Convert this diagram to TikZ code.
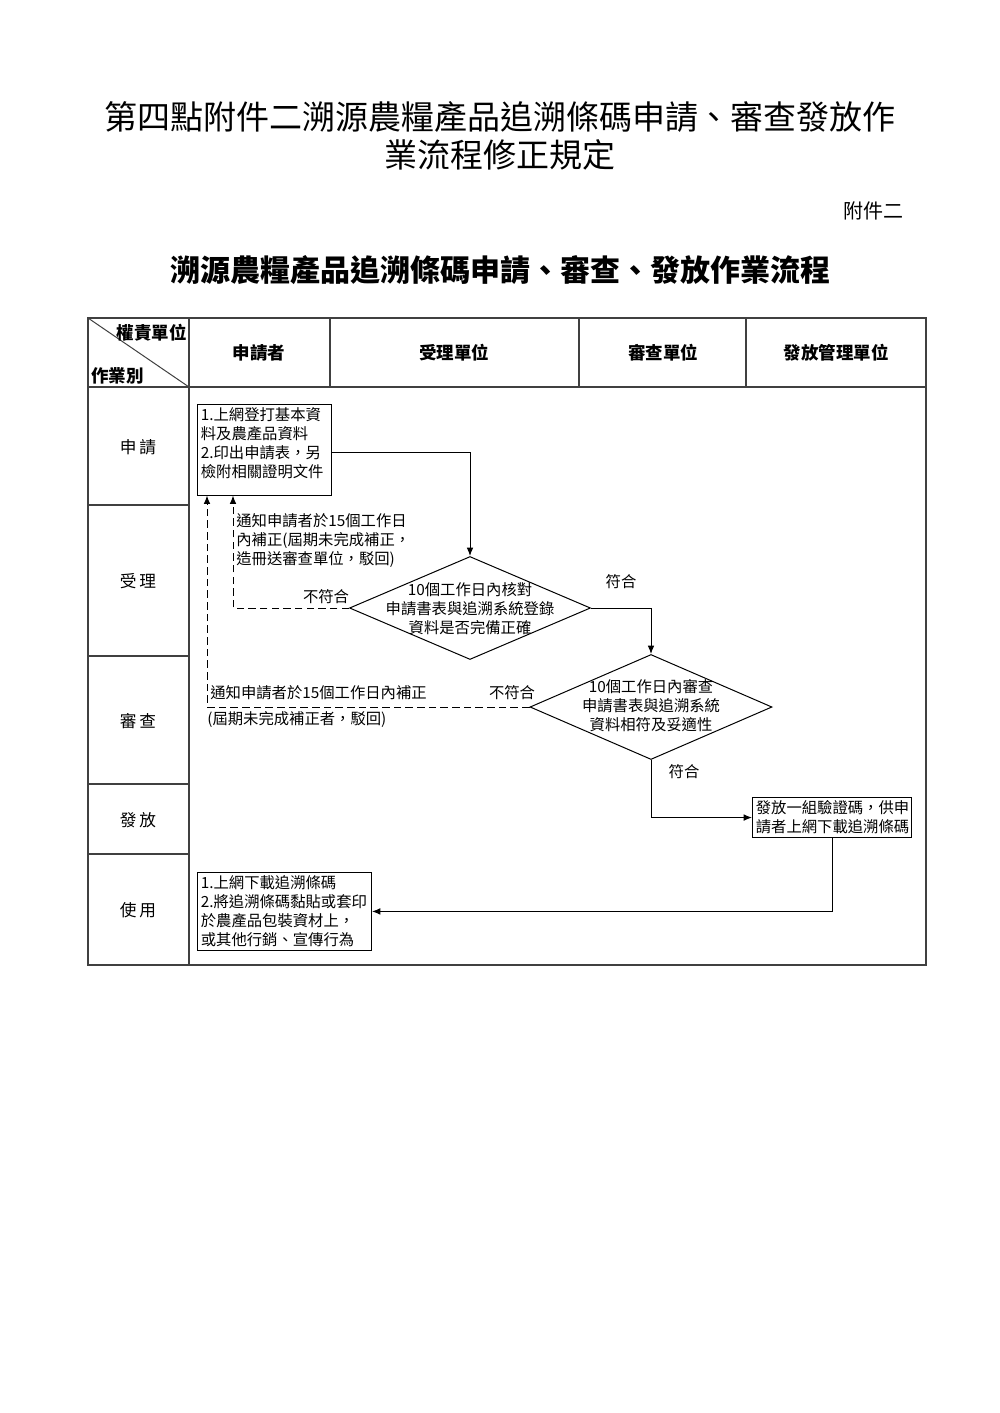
\documentclass[tikz,border=0pt]{standalone}
\usepackage{fontspec}
\setmainfont{Noto Sans CJK TC}
\usetikzlibrary{shapes.geometric,arrows.meta}
\begin{document}
\begin{tikzpicture}[x=0.6pt,y=-0.6pt,
  tbl/.style={draw=black!75, line width=0.8pt},
  box/.style={draw, line width=0.6pt, anchor=north west, align=left, inner sep=2pt, font=\fontsize{9.2pt}{11.4pt}\selectfont},
  dia/.style={draw, diamond, line width=0.6pt, inner sep=0pt},
  lbl/.style={font=\fontsize{9.2pt}{11.4pt}\selectfont, inner sep=0pt},
  flow/.style={line width=0.6pt, -{Latex[length=5pt,width=4pt]}},
  back/.style={flow, dash pattern=on 4.5pt off 2.5pt},
  hd/.style={font=\fontsize{10.5pt}{12pt}\selectfont\bfseries, inner sep=0pt},
  rowl/.style={font=\fontsize{10pt}{12pt}\selectfont, inner sep=0pt}]
\useasboundingbox (0,0) rectangle (1000,1413);

% titles
\node[font=\fontsize{19.8pt}{23pt}\selectfont, inner sep=0pt] (t1) at (500,117) {第四點附件二溯源農糧產品追溯條碼申請、審查發放作};
\node[font=\fontsize{19.8pt}{23pt}\selectfont, inner sep=0pt] (t2) at (500,155) {業流程修正規定};
\node[font=\fontsize{12pt}{14pt}\selectfont, inner sep=0pt, anchor=east] (att) at (904,211) {附件二};
\node[font=\fontsize{18pt}{21pt}\selectfont\bfseries, inner sep=0pt] (t3) at (500,270) {溯源農糧產品追溯條碼申請、審查、發放作業流程};

% table
\draw[tbl, line width=1.1pt] (88,318) rectangle (926,965);
\draw[tbl] (88,387) -- (926,387);
\foreach \y in {505,656,784,854} \draw[tbl] (88,\y) -- (189,\y);
\draw[tbl] (189,318) -- (189,965);
\foreach \x in {330,579,746} \draw[tbl] (\x,318) -- (\x,387);
\draw[tbl, line width=0.6pt] (88,318) -- (189,387);

\node[hd, anchor=east] (h0a) at (187,333) {權責單位};
\node[hd, anchor=west] (h0b) at (91,376) {作業別};
\node[hd] (h1) at (259,353) {申請者};
\node[hd] (h2) at (454,353) {受理單位};
\node[hd] (h3) at (663,353) {審查單位};
\node[hd] (h4) at (836,353) {發放管理單位};

\node[rowl] (r1) at (138,447) {申\,請};
\node[rowl] (r2) at (138,581) {受\,理};
\node[rowl] (r3) at (138,721) {審\,查};
\node[rowl] (r4) at (138,820) {發\,放};
\node[rowl] (r5) at (138,910) {使\,用};

% flow nodes
\node[box, minimum width=80.4pt, minimum height=53.4pt, text width=76.4pt] (b1) at (197,404)
  {1.上網登打基本資\\料及農產品資料\\2.印出申請表，另\\檢附相關證明文件\\[-3pt]\mbox{}};
\node[dia, minimum width=144.6pt, minimum height=61.8pt] (d1) at (470,608) {};
\node[lbl, align=center] (d1t) at (470,609) {10個工作日內核對\\申請書表與追溯系統登錄\\資料是否完備正確};
\node[dia, minimum width=145.2pt, minimum height=63pt] (d2) at (651,707) {};
\node[lbl, align=center] (d2t) at (651,706) {10個工作日內審查\\申請書表與追溯系統\\資料相符及妥適性};
\node[box, minimum width=95.4pt, minimum height=24pt, text width=91.4pt] (b3) at (752,797)
  {發放一組驗證碼，供申\\請者上網下載追溯條碼};
\node[box, minimum width=104.4pt, minimum height=46.2pt, text width=100.4pt] (b4) at (197,872)
  {1.上網下載追溯條碼\\2.將追溯條碼黏貼或套印\\於農產品包裝資材上，\\或其他行銷、宣傳行為};

\coordinate (n1) at ([xshift=21.6pt]b1.south west);
\coordinate (n2) at ([xshift=6pt]b1.south west);

% connectors
\draw[flow] ([yshift=-1.5pt]b1.east) -| (d1.north);
\draw[flow] (d1.east) -| (d2.north);
\draw[flow] (d2.south) |- (b3.west);
\draw[flow] (b3.south) |- (b4.east);
\draw[back] (d1.west) -| (n1);
\draw[back] (d2.west) -| (n2);

% labels
\node[lbl] (l1) at (326,597) {不符合};
\node[lbl, anchor=north west, align=left] (l2) at (236,513) {通知申請者於15個工作日\\內補正(屆期未完成補正，\\造冊送審查單位，駁回)};
\node[lbl] (l3) at (621,582) {符合};
\node[lbl] (l4) at (512,693) {不符合};
\node[lbl, anchor=west] (l5) at (210,693) {通知申請者於15個工作日內補正};
\node[lbl, anchor=west] (l6) at (207,719) {(屆期未完成補正者，駁回)};
\node[lbl] (l7) at (684,772) {符合};
\end{tikzpicture}
\end{document}
